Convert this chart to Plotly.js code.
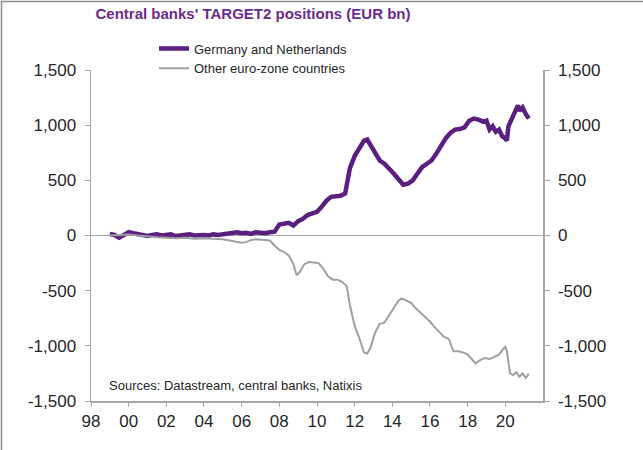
<!DOCTYPE html>
<html>
<head>
<meta charset="utf-8">
<script src="https://cdn.plot.ly/plotly-3.0.1.min.js"></script>
<style>html,body{margin:0;padding:0;background:#fff;}#chart{width:643px;height:450px;}</style>
</head>
<body>
<div id="chart"></div>
<script>
// Germany and Netherlands (EUR bn)
const gnDates = ['1999-01','1999-04','1999-07','1999-10','2000-01','2000-04','2000-07','2000-10','2001-01','2001-04','2001-07','2001-10','2002-01','2002-04','2002-07','2002-10','2003-01','2003-04','2003-07','2003-10','2004-01','2004-04','2004-07','2004-10','2005-01','2005-04','2005-07','2005-10','2006-01','2006-04','2006-07','2006-10','2007-01','2007-04','2007-07','2007-10','2008-01','2008-04','2008-07','2008-10','2009-01','2009-04','2009-07','2009-10','2010-01','2010-04','2010-07','2010-10','2011-01','2011-04','2011-07','2011-10','2012-01','2012-04','2012-07','2012-09','2012-11','2013-02','2013-05','2013-08','2013-11','2014-02','2014-05','2014-08','2014-11','2015-02','2015-05','2015-08','2015-11','2016-02','2016-05','2016-08','2016-11','2017-02','2017-05','2017-08','2017-11','2018-02','2018-05','2018-08','2018-11','2019-01','2019-03','2019-05','2019-07','2019-09','2019-11','2020-01','2020-02','2020-03','2020-05','2020-07','2020-09','2020-10','2020-12','2021-02','2021-04'];
const gnValues = [15,5,-20,10,30,20,15,5,-5,5,10,0,5,10,-5,0,5,10,0,5,5,0,10,5,10,20,15,30,20,25,15,30,25,20,30,35,100,110,115,90,130,150,185,200,215,260,315,350,355,360,380,610,720,800,860,870,820,740,680,650,610,560,510,460,470,500,560,620,650,680,740,820,880,930,960,965,980,1040,1060,1050,1030,1040,960,990,940,960,900,880,860,990,1060,1110,1180,1130,1160,1100,1060];

// Other euro-zone countries (EUR bn)
const ozDates = ['1999-01','1999-07','2000-01','2000-07','2001-01','2001-07','2002-01','2002-07','2003-01','2003-07','2004-01','2004-07','2005-01','2005-07','2006-01','2006-04','2006-07','2006-10','2007-01','2007-04','2007-07','2007-10','2008-01','2008-04','2008-07','2008-10','2008-12','2009-02','2009-05','2009-08','2009-11','2010-02','2010-05','2010-08','2010-11','2011-02','2011-05','2011-08','2011-10','2012-01','2012-04','2012-07','2012-09','2012-11','2013-02','2013-05','2013-08','2013-11','2014-02','2014-05','2014-07','2014-10','2015-01','2015-04','2015-07','2015-10','2016-01','2016-04','2016-07','2016-10','2017-01','2017-04','2017-07','2017-10','2018-01','2018-04','2018-06','2018-09','2018-12','2019-03','2019-06','2019-09','2019-11','2020-01','2020-02','2020-04','2020-06','2020-08','2020-10','2020-12','2021-02','2021-04'];
const ozValues = [0,5,10,0,-10,-15,-20,-25,-20,-30,-25,-30,-35,-50,-65,-60,-40,-35,-40,-40,-45,-90,-130,-150,-180,-260,-360,-330,-260,-240,-245,-250,-300,-370,-400,-400,-420,-460,-630,-820,-930,-1060,-1070,-1020,-880,-800,-790,-720,-660,-590,-570,-590,-610,-660,-700,-740,-780,-830,-880,-920,-940,-1050,-1050,-1060,-1080,-1130,-1160,-1130,-1110,-1120,-1100,-1080,-1040,-1010,-1050,-1250,-1265,-1240,-1280,-1250,-1290,-1255];

const xTickVals = ['1998-01-01','2000-01-01','2002-01-01','2004-01-01','2006-01-01','2008-01-01','2010-01-01','2012-01-01','2014-01-01','2016-01-01','2018-01-01','2020-01-01'];
const xTickText = ['98','00','02','04','06','08','10','12','14','16','18','20'];
const yTickVals = [-1500,-1000,-500,0,500,1000,1500];
const yTickText = ['-1,500','-1,000','-500','0','500','1,000','1,500'];

const axisGrey = '#A6A6A6';
const tickFont = {family:'Liberation Sans, Arial, sans-serif', size:17, color:'#262626'};

const traces = [
  {x: gnDates, y: gnValues, type:'scatter', mode:'lines', name:'Germany and Netherlands',
   line:{color:'#5B1F80', width:4.5}, yaxis:'y'},
  {x: ozDates, y: ozValues, type:'scatter', mode:'lines', name:'Other euro-zone countries',
   line:{color:'#A0A0A0', width:2}, yaxis:'y2'}
];

const layout = {
  width:643, height:450,
  margin:{l:91, r:100, t:70, b:49, autoexpand:false},
  paper_bgcolor:'#fff', plot_bgcolor:'#fff',
  font:{family:'Liberation Sans, Arial, sans-serif', color:'#262626'},
  title:{text:"Central banks' TARGET2 positions (EUR bn)", xref:'container', x:253/643, xanchor:'center',
         yref:'container', y:1-14/450, yanchor:'middle',
         font:{family:'Liberation Sans, Arial, sans-serif', size:15, color:'#6B2C8F', weight:'bold'}},
  showlegend:true,
  legend:{x:(154-91)/452, xanchor:'left', y:(401-33.5)/331, yanchor:'top', bgcolor:'rgba(0,0,0,0)',
          font:{size:13, color:'#262626'}, traceorder:'normal'},
  xaxis:{type:'date', range:['1998-01-01','2022-01-01'], tickvals:xTickVals, ticktext:xTickText,
         showline:true, linecolor:axisGrey, linewidth:1.5, ticks:'outside', ticklen:4, tickcolor:axisGrey,
         showgrid:false, zeroline:false, tickfont:tickFont},
  yaxis:{range:[-1500,1500], tickvals:yTickVals, ticktext:yTickText, showline:true, linecolor:axisGrey, linewidth:1.5,
         ticks:'outside', ticklen:5, tickcolor:axisGrey, showgrid:false, zeroline:true, zerolinecolor:axisGrey,
         zerolinewidth:1.5, tickfont:tickFont, ticklabelstandoff:5},
  yaxis2:{range:[-1500,1500], tickvals:yTickVals, ticktext:yTickText, overlaying:'y', side:'right', showline:true,
          linecolor:axisGrey, linewidth:1.5, ticks:'outside', ticklen:5, tickcolor:axisGrey, showgrid:false,
          zeroline:false, tickfont:tickFont, ticklabelstandoff:5},
  annotations:[{text:'Sources: Datastream, central banks, Natixis', xref:'paper', yref:'paper',
                x:(107-91)/452, xanchor:'left', y:(401-385)/331, yanchor:'middle', showarrow:false,
                font:{size:13, color:'#262626'}}],
  shapes:[
    {type:'line', xref:'paper', yref:'paper', x0:-89.5/452, x1:-89.5/452, y0:-49/331, y1:400/331, line:{color:'#8C8C8C', width:1.5}},
    {type:'line', xref:'paper', yref:'paper', x0:-90/452, x1:552/452, y0:399.5/331, y1:399.5/331, line:{color:'#8C8C8C', width:1.5}}
  ]
};

Plotly.newPlot('chart', traces, layout, {displayModeBar:false, staticPlot:true});
</script>
</body>
</html>
